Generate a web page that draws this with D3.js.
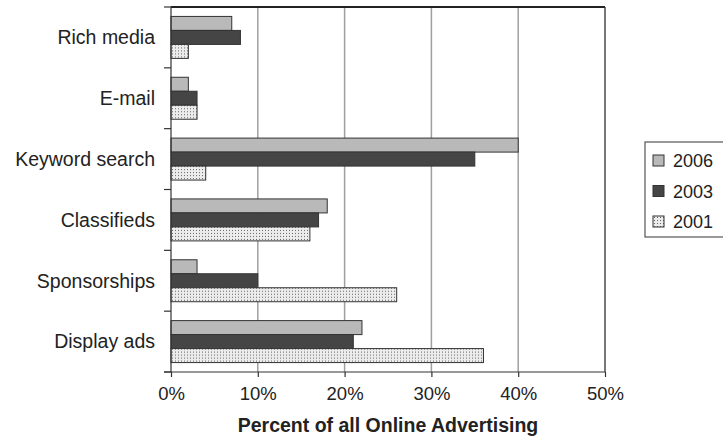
<!DOCTYPE html>
<html>
<head>
<meta charset="utf-8">
<script src="https://cdn.jsdelivr.net/npm/d3@7"></script>
<style>
  body { margin: 0; background: #fff; }
  svg text { font-family: "Liberation Sans", Arial, sans-serif; fill: #222; }
</style>
</head>
<body>
<div id="chart"></div>
<script>
const categories = ['Rich media', 'E-mail', 'Keyword search', 'Classifieds', 'Sponsorships', 'Display ads'];
const seriesNames = ['2006', '2003', '2001'];
const values2006 = [7, 2, 40, 18, 3, 22];
const values2003 = [8, 3, 35, 17, 10, 21];
const values2001 = [2, 3, 4, 16, 26, 36];
const xTicks = [0, 10, 20, 30, 40, 50];

const W = 723, H = 439;
const margin = {top: 7, right: 118, bottom: 67, left: 171};
const width = W - margin.left - margin.right;
const height = H - margin.top - margin.bottom;

const seriesValues = [values2006, values2003, values2001];
const data = categories.map((c, i) => ({
  cat: c,
  vals: seriesNames.map((s, j) => ({key: s, value: seriesValues[j][i]}))
}));

const svg = d3.select('#chart').append('svg')
  .attr('width', W)
  .attr('height', H);

const defs = svg.append('defs');
const pat = defs.append('pattern')
  .attr('id', 'dots')
  .attr('patternUnits', 'userSpaceOnUse')
  .attr('width', 3)
  .attr('height', 3);
pat.append('rect').attr('width', 3).attr('height', 3).attr('fill', '#ececec');
pat.append('rect').attr('x', 1).attr('y', 1).attr('width', 1).attr('height', 1).attr('fill', '#666');

const fills = {'2006': '#b9b9b9', '2003': '#454545', '2001': 'url(#dots)'};

const g = svg.append('g')
  .attr('transform', `translate(${margin.left}, ${margin.top})`);

const x = d3.scaleLinear().domain([0, 50]).range([0, width]);
const y = d3.scaleBand().domain(categories).range([0, height])
  .paddingInner(0.31).paddingOuter(0.155);
const ySub = d3.scaleBand().domain(seriesNames).range([0, y.bandwidth()]);

// gridlines
g.selectAll('.grid')
  .data(xTicks.slice(1, -1))
  .enter().append('line')
  .attr('x1', d => x(d)).attr('x2', d => x(d))
  .attr('y1', 0).attr('y2', height)
  .attr('stroke', '#a0a0a0')
  .attr('stroke-width', 1.5);

// frame: right and top
g.append('line')
  .attr('x1', x(50)).attr('x2', x(50))
  .attr('y1', 0).attr('y2', height)
  .attr('stroke', '#777').attr('stroke-width', 2);
g.append('line')
  .attr('x1', 0).attr('x2', x(50))
  .attr('y1', 0).attr('y2', 0)
  .attr('stroke', '#222').attr('stroke-width', 2);

// bars
const groups = g.selectAll('.cat')
  .data(data)
  .enter().append('g')
  .attr('transform', d => `translate(0, ${y(d.cat)})`);

groups.selectAll('rect')
  .data(d => d.vals)
  .enter().append('rect')
  .attr('x', x(0))
  .attr('y', d => ySub(d.key))
  .attr('width', d => x(d.value) - x(0))
  .attr('height', ySub.bandwidth())
  .attr('fill', d => fills[d.key])
  .attr('stroke', '#333')
  .attr('stroke-width', 1);

// y axis
const yBounds = d3.range(categories.length + 1).map(i => i * height / categories.length);
g.append('line')
  .attr('x1', 0).attr('x2', 0).attr('y1', 0).attr('y2', height)
  .attr('stroke', '#333').attr('stroke-width', 1.2);
g.selectAll('.ytick')
  .data(yBounds)
  .enter().append('line')
  .attr('x1', -7).attr('x2', 0)
  .attr('y1', d => d).attr('y2', d => d)
  .attr('stroke', '#333').attr('stroke-width', 1.2);
g.selectAll('.ylabel')
  .data(categories)
  .enter().append('text')
  .attr('x', -16)
  .attr('y', d => y(d) + y.bandwidth() / 2)
  .attr('dy', '0.35em')
  .attr('text-anchor', 'end')
  .style('font-size', '19.5px')
  .text(d => d);

// x axis
const xAxis = d3.axisBottom(x)
  .tickValues(xTicks)
  .tickSize(5)
  .tickSizeOuter(0)
  .tickFormat(d => d + '%');
const xg = g.append('g')
  .attr('transform', `translate(0, ${height})`)
  .call(xAxis);
xg.select('.domain').attr('stroke', '#333').attr('stroke-width', 1.2)
  .attr('d', `M-7,0H${width}`);
xg.selectAll('.tick line').attr('stroke', '#333').attr('stroke-width', 1.2);
xg.selectAll('.tick text')
  .attr('y', 15)
  .style('font-size', '18.5px')
  .style('font-family', '"Liberation Sans", Arial, sans-serif')
  .attr('fill', '#222');

g.append('text')
  .attr('x', width / 2)
  .attr('y', height + 60)
  .attr('text-anchor', 'middle')
  .style('font-size', '19.5px')
  .style('font-weight', 'bold')
  .text('Percent of all Online Advertising');

// legend
const legend = svg.append('g')
  .attr('transform', 'translate(645, 142)');
legend.append('rect')
  .attr('width', 85).attr('height', 95)
  .attr('fill', '#fff')
  .attr('stroke', '#555').attr('stroke-width', 1.2);
const items = legend.selectAll('.item')
  .data(seriesNames)
  .enter().append('g')
  .attr('transform', (d, i) => `translate(8, ${19 + i * 30.5})`);
items.append('rect')
  .attr('x', 0).attr('y', -6)
  .attr('width', 11).attr('height', 11)
  .attr('fill', d => fills[d])
  .attr('stroke', '#333').attr('stroke-width', 1);
items.append('text')
  .attr('x', 20)
  .attr('dy', '0.36em')
  .style('font-size', '18px')
  .text(d => d);
</script>
</body>
</html>
